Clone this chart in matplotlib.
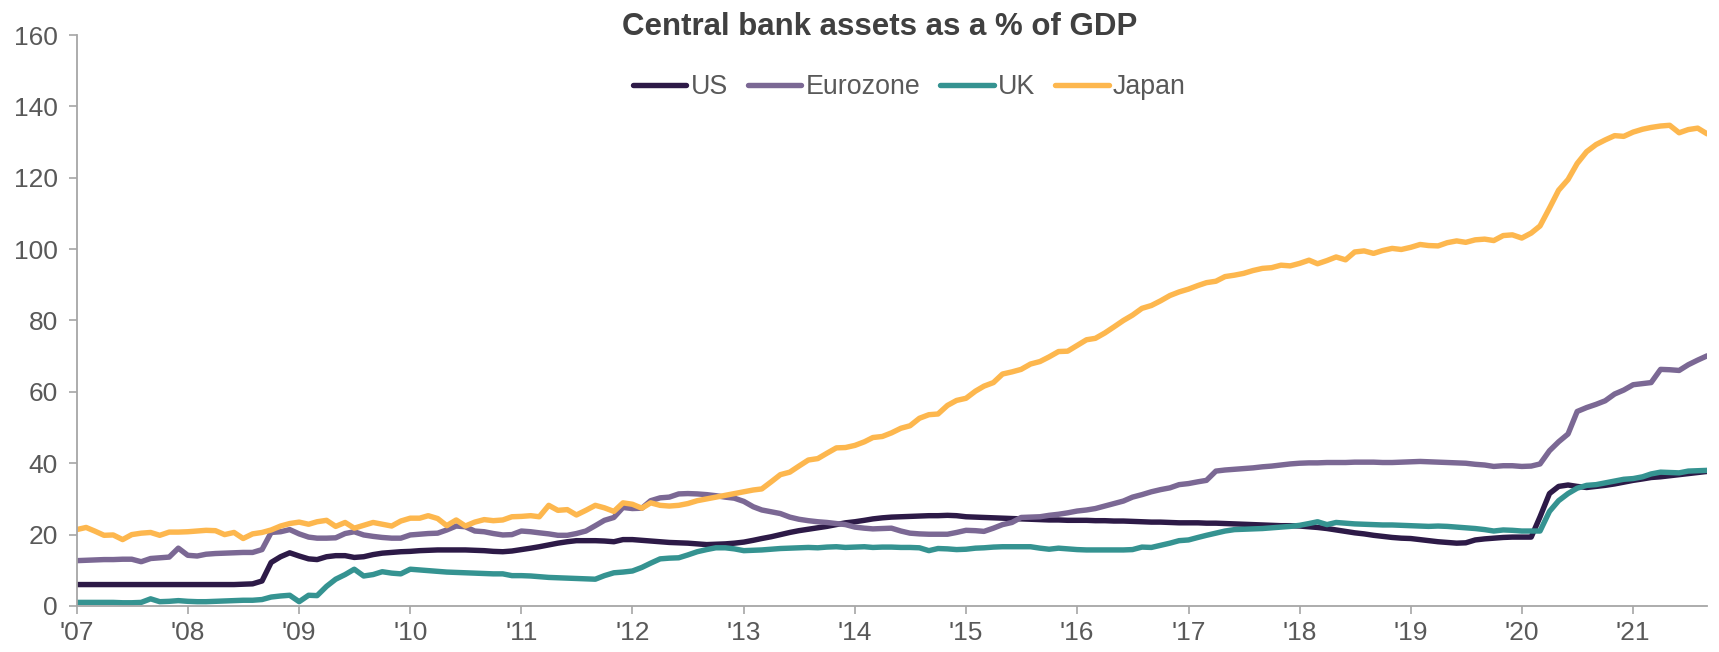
# -*- coding: utf-8 -*-
import matplotlib
import matplotlib.pyplot as plt
import pandas as pd

matplotlib.use('Agg')

# monthly, Jan 2007 - Sep 2021, % of GDP
us = [
    6.0, 6.0, 6.0, 6.0, 6.0, 6.0, 6.0, 6.0, 6.0, 6.0, 6.0, 6.0,
    6.0, 6.0, 6.0, 6.0, 6.0, 6.0, 6.1, 6.2, 7.0, 12.2, 13.8, 14.9,
    14.0, 13.2, 13.0, 13.8, 14.1, 14.1, 13.6, 13.8, 14.4, 14.8, 15.0, 15.2,
    15.3, 15.5, 15.6, 15.7, 15.7, 15.7, 15.7, 15.6, 15.5, 15.3, 15.2, 15.4,
    15.8, 16.2, 16.6, 17.1, 17.6, 18.0, 18.3, 18.3, 18.3, 18.2, 18.0, 18.6,
    18.6, 18.4, 18.2, 18.0, 17.8, 17.7, 17.6, 17.4, 17.2, 17.3, 17.4, 17.6,
    17.9, 18.4, 18.9, 19.4, 20.0, 20.6, 21.1, 21.5, 21.9, 22.3, 22.8, 23.3,
    23.6, 24.0, 24.4, 24.7, 24.9, 25.0, 25.1, 25.2, 25.3, 25.3, 25.4, 25.3,
    25.0, 24.9, 24.8, 24.7, 24.6, 24.5, 24.4, 24.3, 24.2, 24.1, 24.1, 24.0,
    24.0, 24.0, 23.9, 23.9, 23.8, 23.8, 23.7, 23.6, 23.5, 23.5, 23.4, 23.3,
    23.3, 23.3, 23.2, 23.2, 23.1, 23.0, 22.9, 22.8, 22.7, 22.6, 22.5, 22.5,
    22.4, 22.2, 22.0, 21.7, 21.3, 20.9, 20.5, 20.2, 19.8, 19.5, 19.2, 19.0,
    18.9, 18.6, 18.3, 18.0, 17.8, 17.6, 17.7, 18.5, 18.8, 19.0, 19.2, 19.3,
    19.3, 19.3, 25.0, 31.5, 33.5, 33.9, 33.5, 33.2, 33.5, 33.8, 34.2, 34.7,
    35.2, 35.6, 36.0, 36.2, 36.5, 36.8, 37.1, 37.4, 37.7,
]
eurozone = [
    12.7, 12.8, 12.9, 13.0, 13.0, 13.1, 13.1, 12.4, 13.3, 13.5, 13.7, 16.2,
    14.2, 14.0, 14.5, 14.7, 14.8, 14.9, 15.0, 15.0, 15.8, 20.6, 20.8, 21.4,
    20.2, 19.3, 19.0, 19.0, 19.1, 20.3, 20.8, 19.9, 19.5, 19.2, 19.0, 19.0,
    19.9, 20.1, 20.3, 20.4, 21.3, 22.4, 22.2, 21.0, 20.8, 20.3, 19.9, 20.0,
    21.0, 20.8, 20.5, 20.2, 19.8, 19.8, 20.3, 21.0, 22.5, 24.0, 24.8, 27.6,
    27.3, 27.4, 29.5, 30.3, 30.5, 31.4, 31.5, 31.4, 31.2, 30.9, 30.5, 30.2,
    29.3, 27.8, 26.9, 26.4, 25.9, 24.9, 24.3, 23.9, 23.6, 23.4, 23.1, 22.8,
    22.1, 21.8, 21.6, 21.7, 21.8, 21.0, 20.4, 20.2, 20.1, 20.1, 20.1, 20.6,
    21.2, 21.1, 20.9, 21.8, 22.8, 23.4, 24.8, 24.9, 25.0, 25.4, 25.7, 26.1,
    26.6, 26.9, 27.3, 28.0, 28.7, 29.4, 30.5, 31.2, 32.0, 32.6, 33.1, 34.0,
    34.3, 34.8, 35.2, 37.8, 38.1, 38.3, 38.5, 38.7, 39.0, 39.2, 39.5, 39.8,
    40.0, 40.1, 40.1, 40.2, 40.2, 40.2, 40.3, 40.3, 40.3, 40.2, 40.2, 40.3,
    40.4, 40.5, 40.4, 40.3, 40.2, 40.1, 40.0, 39.7, 39.5, 39.1, 39.3, 39.3,
    39.1, 39.2, 39.8, 43.5, 46.0, 48.2, 54.5, 55.6, 56.5, 57.5, 59.4, 60.5,
    62.0, 62.3, 62.6, 66.3, 66.2, 66.0, 67.6, 68.9, 70.1,
]
uk = [
    1.0, 1.0, 1.0, 1.0, 1.0, 0.9, 0.9, 1.0, 2.0, 1.2, 1.3, 1.5,
    1.3, 1.2, 1.2, 1.3, 1.4, 1.5, 1.6, 1.6, 1.8, 2.5, 2.8, 3.0,
    1.2, 3.0, 2.9, 5.5, 7.5, 8.8, 10.3, 8.4, 8.8, 9.6, 9.2, 9.0,
    10.3, 10.1, 9.9, 9.7, 9.5, 9.4, 9.3, 9.2, 9.1, 9.0, 9.0, 8.5,
    8.5, 8.4, 8.2, 8.0, 7.9, 7.8, 7.7, 7.6, 7.5, 8.5, 9.3, 9.5,
    9.8, 10.8, 12.0, 13.2, 13.4, 13.5, 14.3, 15.2, 15.8, 16.3, 16.3, 16.0,
    15.5, 15.6, 15.7, 15.9, 16.1, 16.2, 16.3, 16.4, 16.3, 16.5, 16.6, 16.4,
    16.5, 16.6, 16.4, 16.5, 16.5, 16.4, 16.4, 16.3, 15.5, 16.1, 16.0, 15.8,
    15.9, 16.2, 16.3, 16.5, 16.6, 16.6, 16.6, 16.6, 16.2, 15.9, 16.2, 16.0,
    15.8, 15.7, 15.7, 15.7, 15.7, 15.7, 15.8, 16.5, 16.4, 17.0, 17.6, 18.3,
    18.5, 19.2, 19.8, 20.4, 21.0, 21.4, 21.5, 21.6, 21.7, 21.9, 22.1, 22.3,
    22.6, 23.1, 23.6, 22.8, 23.4, 23.2, 23.0, 22.9, 22.8, 22.7, 22.7, 22.6,
    22.5, 22.4, 22.3, 22.4, 22.3, 22.1, 21.9, 21.7, 21.4, 21.0, 21.3, 21.2,
    21.0, 21.0, 21.0, 26.5, 29.5, 31.5, 33.0, 33.8, 34.0, 34.5, 35.0, 35.5,
    35.7, 36.2, 37.0, 37.5, 37.4, 37.3, 37.8, 37.9, 38.0,
]
japan = [
    21.4, 22.0, 21.0, 19.8, 19.9, 18.6, 20.0, 20.4, 20.6, 19.8, 20.7, 20.7,
    20.8, 21.0, 21.2, 21.1, 20.0, 20.6, 18.9, 20.2, 20.6, 21.3, 22.4, 23.1,
    23.5, 22.9, 23.6, 24.0, 22.3, 23.4, 21.8, 22.6, 23.4, 22.9, 22.4, 23.8,
    24.6, 24.6, 25.3, 24.5, 22.5, 24.1, 22.4, 23.5, 24.2, 23.9, 24.1, 25.0,
    25.1, 25.3, 25.0, 28.2, 26.8, 27.0, 25.5, 26.8, 28.2, 27.5, 26.5, 28.9,
    28.5, 27.4, 28.9, 28.2, 28.0, 28.2, 28.7, 29.5, 30.0, 30.5, 31.0, 31.5,
    32.0, 32.5, 32.8, 34.8, 36.8, 37.5, 39.2, 40.9, 41.3, 42.8, 44.3, 44.4,
    45.0, 46.0, 47.2, 47.5, 48.5, 49.8, 50.5, 52.6, 53.6, 53.8, 56.2, 57.6,
    58.2, 60.2, 61.6, 62.6, 65.0, 65.6, 66.3, 67.8, 68.5, 69.8, 71.3, 71.4,
    73.0, 74.6, 75.0, 76.5, 78.2, 80.0, 81.5, 83.4, 84.2, 85.5, 87.0, 88.0,
    88.8, 89.8, 90.6, 91.0, 92.3, 92.7, 93.2, 94.0, 94.6, 94.8, 95.5, 95.3,
    96.0, 96.9, 95.9, 96.8, 97.8, 97.0, 99.2, 99.5, 98.8, 99.6, 100.2, 99.9,
    100.5, 101.3, 101.0, 100.9, 101.8, 102.3, 101.9, 102.6, 102.8, 102.4, 103.8, 104.0,
    103.1, 104.5, 106.5, 111.5, 116.5, 119.5, 124.0, 127.3, 129.3, 130.6, 131.8, 131.6,
    132.8, 133.6, 134.1, 134.5, 134.7, 132.6, 133.5, 133.9, 132.3,
]

series = [
    ('US', us, '#2d1a47'),
    ('Eurozone', eurozone, '#7b6894'),
    ('UK', uk, '#359391'),
    ('Japan', japan, '#fdb74e'),
]
years = list(range(2007, 2022))

plt.rcParams['font.family'] = ['Liberation Sans', 'DejaVu Sans']
grey = '#a6a6a6'
text_col = '#595959'

dates = pd.date_range('2007-01-01', periods=len(us), freq='MS')

fig = plt.figure(figsize=(17.19, 6.52), dpi=100)
ax = fig.add_axes([0.0446, 0.0706, 0.9485, 0.8757])

for name, values, colour in series:
    ax.plot(dates, values, color=colour, lw=3.9, label=name,
            solid_capstyle='round', solid_joinstyle='round')

ax.set_ylim(0, 160)
ax.set_yticks(range(0, 161, 20))
ax.set_xlim(dates[0], dates[-1])
ax.set_xticks([pd.Timestamp(y, 1, 1) for y in years])
ax.set_xticklabels(["'{:02d}".format(y % 100) for y in years])

for side in ('top', 'right'):
    ax.spines[side].set_visible(False)
for side in ('left', 'bottom'):
    ax.spines[side].set_color(grey)
    ax.spines[side].set_linewidth(1.3)
ax.tick_params(axis='both', colors=grey, length=5.5, width=1.2,
               labelsize=19, labelcolor=text_col)
ax.tick_params(axis='y', pad=8)
ax.tick_params(axis='x', pad=5)

fig.text(0.5115, 0.958, 'Central bank assets as a % of GDP', ha='center',
         va='center', fontsize=22.5, fontweight='bold', color='#404040')

fig.legend(loc='center', bbox_to_anchor=(0.529, 0.866), ncol=4,
           frameon=False, fontsize=19.3, labelcolor=text_col,
           handlelength=2.0, handletextpad=0.15, columnspacing=0.75)

fig.savefig('out.png', dpi=100)
plt.close(fig)
